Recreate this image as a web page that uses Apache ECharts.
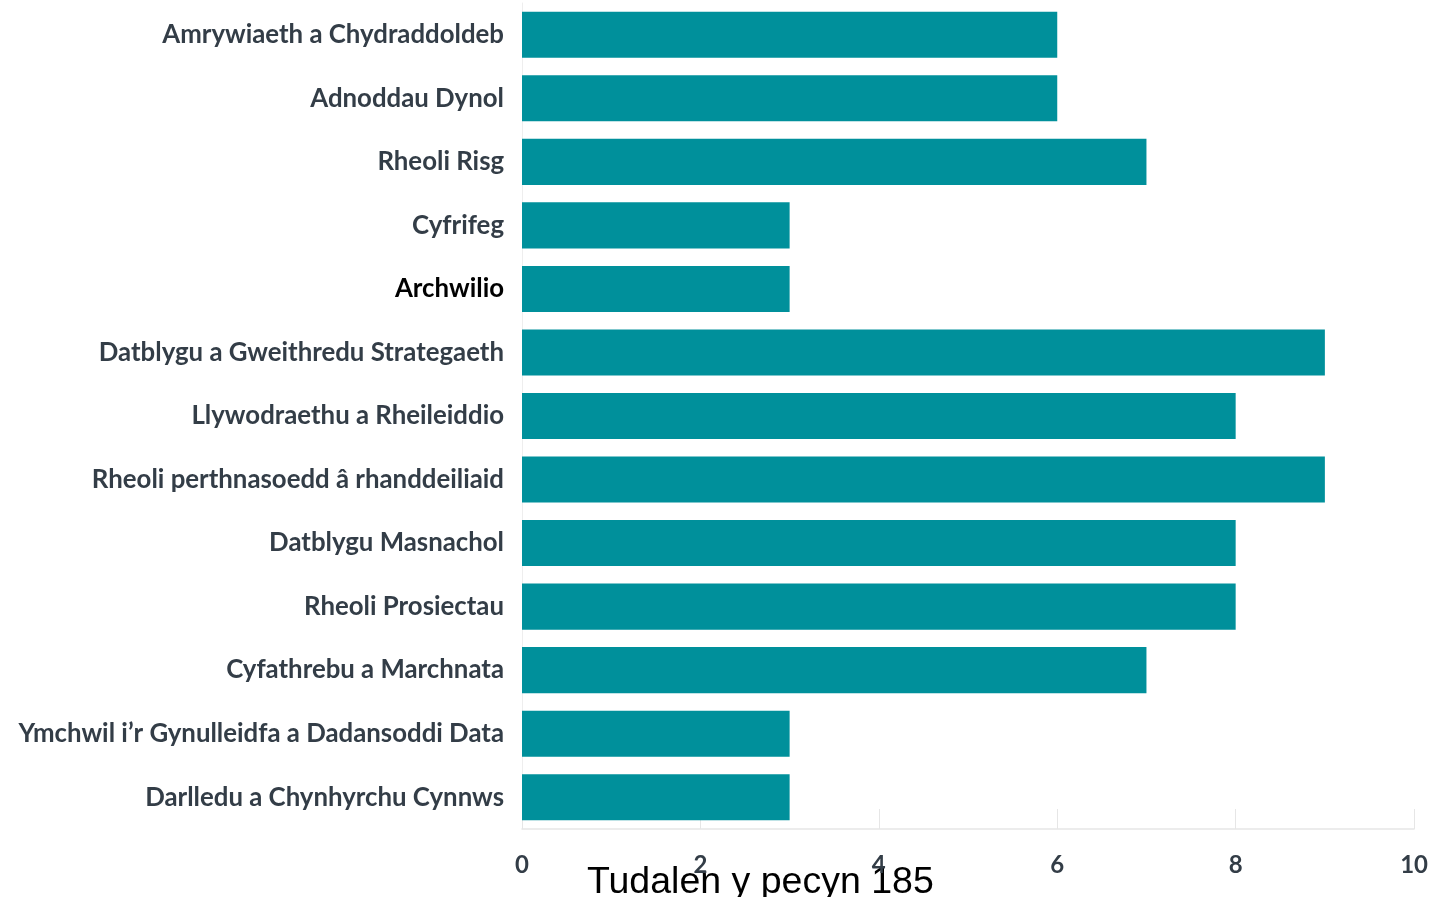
<!DOCTYPE html>
<html><head><meta charset="utf-8">
<script src="https://cdn.jsdelivr.net/npm/echarts@6/dist/echarts.min.js"></script>
<style>html,body{margin:0;padding:0;background:#fff}#c{width:1431px;height:897px}</style>
</head><body><div id="c"></div>
<script>
const categories = ["Amrywiaeth a Chydraddoldeb","Adnoddau Dynol","Rheoli Risg","Cyfrifeg","Archwilio","Datblygu a Gweithredu Strategaeth","Llywodraethu a Rheileiddio","Rheoli perthnasoedd â rhanddeiliaid","Datblygu Masnachol","Rheoli Prosiectau","Cyfathrebu a Marchnata","Ymchwil i’r Gynulleidfa a Dadansoddi Data","Darlledu a Chynhyrchu Cynnws"];
const values = [6,6,7,3,3,9,8,9,8,8,7,3,3];
const xTicks = [0,2,4,6,8,10];
const footer = "Tudalen y pecyn 185";

const chart = echarts.init(document.getElementById('c'));
chart.setOption({
  animation:false,
  grid:{left:522,right:12,top:3,bottom:68,containLabel:false},
  xAxis:{type:'value',min:xTicks[0],max:xTicks[xTicks.length-1],interval:2,
    axisLine:{show:true,lineStyle:{color:'#e6e6e6',width:1.5}},
    axisTick:{show:true,inside:true,length:20,lineStyle:{color:'#e6e6e6'}},
    splitLine:{show:false},
    axisLabel:{color:'#333d47',fontFamily:'Lato',fontWeight:'bold',fontSize:24,margin:24}},
  yAxis:{type:'category',data:categories,inverse:true,
    axisLine:{show:true,lineStyle:{color:'#eeeeee'}},
    axisTick:{show:false},
    axisLabel:{margin:18,fontFamily:'Lato',fontWeight:'bold',fontSize:25.8,
      color:function(v){return v==='Archwilio'?'#000000':'#333d47';}}},
  series:[{type:'bar',data:values,barCategoryGap:'27.5%',itemStyle:{color:'#00909b'}}],
  graphic:[{type:'text',left:587,top:864,style:{text:footer,fontFamily:'Liberation Sans',fontSize:37.5,fill:'#000'}}]
});
</script></body></html>
